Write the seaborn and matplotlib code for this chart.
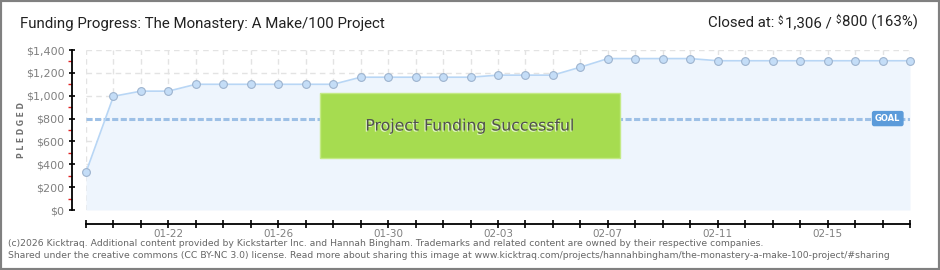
import matplotlib
matplotlib.use("Agg")
import matplotlib.pyplot as plt
import matplotlib.patheffects as pe
from matplotlib.patches import Rectangle
from matplotlib.ticker import FuncFormatter
import seaborn as sns
import pandas as pd

# ---------------- data ----------------
dates = pd.date_range("2026-01-19", "2026-02-18", freq="D")
pledged = [330, 995, 1040, 1040, 1100, 1100, 1100, 1100, 1100, 1100,
           1162, 1162, 1162, 1162, 1162, 1180, 1180, 1180, 1250, 1325,
           1325, 1325, 1325, 1306, 1306, 1306, 1306, 1306, 1306, 1306, 1306]
goal = 800
y_ticks = [0, 200, 400, 600, 800, 1000, 1200, 1400]
y_minor = [100, 300, 500, 700, 900, 1100, 1300]
label_every = 4
label_start = 3

title = "Funding Progress: The Monastery: A Make/100 Project"
closed_parts = ["Closed at: ", "$", "1,306 / ", "$", "800 (163%)"]
banner = "Project Funding Successful"
footer1 = ("(c)2026 Kicktraq. Additional content provided by Kickstarter Inc. and Hannah Bingham. "
           "Trademarks and related content are owned by their respective companies.")
footer2 = ("Shared under the creative commons (CC BY-NC 3.0) license. Read more about sharing this image at "
           "www.kicktraq.com/projects/hannahbingham/the-monastery-a-make-100-project/#sharing")

# ---------------- style ----------------
sns.set_theme(style="white")
plt.rcParams['font.family'] = ['DejaVu Sans']

W, H = 940, 270
fig = plt.figure(figsize=(W / 100, H / 100), dpi=100)
fig.patch.set_facecolor("white")
ax = fig.add_axes([86 / W, 60 / H, 824 / W, 160 / H])
ax.set_facecolor("white")

df = pd.DataFrame({"date": dates, "pledged": pledged})

ax.fill_between(df["date"], df["pledged"], 0, color="#EEF5FD", zorder=1, lw=0)
sns.lineplot(data=df, x="date", y="pledged", ax=ax, color="#B8D6F5", lw=1.2,
             marker="o", markersize=5.6, markerfacecolor="#C4DDF7",
             markeredgecolor="#9DB3CE", markeredgewidth=0.8, zorder=5, clip_on=False)

ax.set_xlim(dates[0], dates[-1])
ax.set_ylim(0, 1400)

# ticks
ax.set_xticks(list(dates), minor=True)
major_dates = list(dates[label_start::label_every])
ax.set_xticks(major_dates)
ax.set_xticklabels([d.strftime("%m-%d") for d in major_dates])
ax.set_yticks(y_ticks)
ax.set_yticks(y_minor, minor=True)
ax.yaxis.set_major_formatter(FuncFormatter(lambda v, p: f"${v:,.0f}"))

ax.grid(which="both", axis="x", color="#E3E3E3", lw=1, linestyle=(0, (4, 3)), zorder=0)
ax.grid(which="major", axis="y", color="#E3E3E3", lw=1, linestyle=(0, (4, 3)), zorder=0)
ax.set_axisbelow(True)

for s in ["top", "right"]:
    ax.spines[s].set_visible(False)
for s in ["left", "bottom"]:
    ax.spines[s].set_visible(True)
    ax.spines[s].set_color("black")
    ax.spines[s].set_linewidth(1.3)
    ax.spines[s].set_position(("outward", 10))

ax.tick_params(axis="x", which="both", direction="inout", length=6, width=1.2,
               color="black", labelsize=7.5, labelcolor="#808080", pad=1, bottom=True)
ax.tick_params(axis="y", which="major", direction="inout", length=5, width=1.2,
               color="black", labelsize=8, labelcolor="#808080", pad=3, left=True)
ax.tick_params(axis="y", which="minor", direction="out", length=3, width=1,
               color="#E02020", left=True)
ax.set_xlabel("")
ax.set_ylabel("")

# goal line
ax.axhline(goal, color="#9DC0E6", lw=2.2, linestyle=(0, (2, 0.8)), zorder=3)
ax.text(0.973, goal, "GOAL", transform=ax.get_yaxis_transform(), ha="center", va="center",
        fontsize=6, color="white", fontweight="bold", zorder=6,
        bbox=dict(boxstyle="round,pad=0.3,rounding_size=0.2", fc="#5B9BDA", ec="#5B9BDA"))

# success banner
ax.add_patch(Rectangle((0.284, 0.325), 0.364, 0.406, transform=ax.transAxes,
                       facecolor="#A6DC50", edgecolor="#C4EA86", lw=1, zorder=7))
ax.text(0.466, 0.525, banner, transform=ax.transAxes, ha="center", va="center",
        fontsize=11.3, color="#505050", zorder=8,
        path_effects=[pe.withSimplePatchShadow(offset=(-0.8, -0.8), shadow_rgbFace="white", alpha=0.7)])

# y label
fig.text(22 / W, 1 - 130 / H, "P L E D G E D", rotation=90, ha="center", va="center",
         fontsize=5.5, color="#707070", fontweight="bold")

# title
fig.text(20 / W, 1 - 24 / H, title, ha="left", va="center", fontsize=10.8,
         color="#222222", family=["Roboto", "DejaVu Sans"])

# closed-at text, chained right to left
big = dict(fontsize=10.8, color="#222222", family=["Roboto", "DejaVu Sans"])
small = dict(fontsize=7, color="#222222", family=["Roboto", "DejaVu Sans"])
t_last = fig.text(918 / W, 1 - 30 / H, closed_parts[4], ha="right", va="bottom", **big)
d2 = ax.annotate(closed_parts[3], xy=(0, 1), xycoords=t_last, ha="right", va="top",
                 xytext=(-1, 0), textcoords="offset points", annotation_clip=False, **small)
p2 = ax.annotate(closed_parts[2], xy=(0, 0), xycoords=(d2, t_last), ha="right", va="bottom",
                 annotation_clip=False, **big)
d1 = ax.annotate(closed_parts[1], xy=(0, 1), xycoords=p2, ha="right", va="top",
                 xytext=(-1, 0), textcoords="offset points", annotation_clip=False, **small)
p1 = ax.annotate(closed_parts[0], xy=(0, 0), xycoords=(d1, t_last), ha="right", va="bottom",
                 annotation_clip=False, **big)

# footer
fig.text(8 / W, 1 - 243 / H, footer1, ha="left", va="center", fontsize=6.65, color="#666666")
fig.text(8 / W, 1 - 256 / H, footer2, ha="left", va="center", fontsize=6.7, color="#666666")

# frame
fig.add_artist(Rectangle((0, 0), 1, 1, transform=fig.transFigure, fill=False,
                         ec="#808080", lw=3))

fig.savefig("out.png", dpi=100)
